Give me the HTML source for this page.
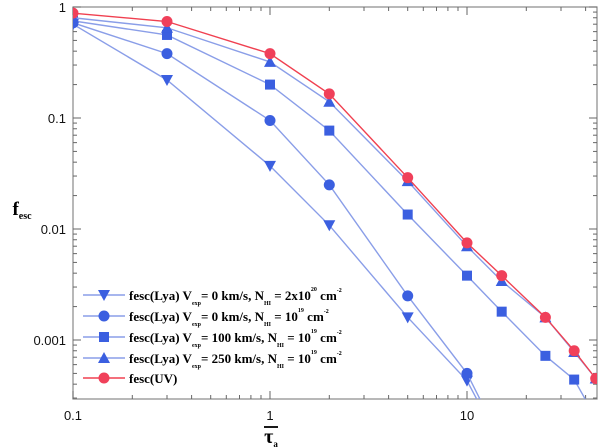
<!DOCTYPE html>
<html><head><meta charset="utf-8"><style>
html,body{margin:0;padding:0;background:#fff;}
svg{display:block;}
</style></head><body>
<svg id="chart" width="600" height="447" xmlns="http://www.w3.org/2000/svg">
<defs><clipPath id="clip"><rect x="73" y="7" width="524" height="392"/></clipPath></defs>
<g id="axes"></g>
<g id="series" clip-path="url(#clip)"></g>
<g id="legend"></g>
<text x="22" y="215" font-family="Liberation Serif, serif" font-weight="bold" font-size="19" text-anchor="middle">f<tspan font-size="10" dy="4">esc</tspan></text>
<g>
<line x1="264" y1="427" x2="278" y2="427" stroke="#000" stroke-width="1.8"/>
<text x="271" y="443" font-family="Liberation Serif, serif" font-weight="bold" font-size="20" text-anchor="middle">τ<tspan font-size="9" dy="4">a</tspan></text>
</g>
</svg>
<script>
const xCats=[0.1,0.3,1,2,5,10,15,25,35,45];
const uv=[0.88,0.74,0.38,0.165,0.029,0.0075,0.0038,0.0016,0.0008,0.00045];
const v250=[0.8,0.65,0.32,0.14,0.027,0.007,0.0034,0.0016,0.00078,0.00045];
const v100=[0.75,0.56,0.2,0.077,0.0135,0.0038,0.0018,0.00072,0.00044,0.0002];
const v0=[0.72,0.38,0.095,0.025,0.0025,0.0005,0.00012];
const v0big=[0.7,0.22,0.037,0.0108,0.0016,0.00043,0.00011];
const xTickLabels=['0.1','1','10'];
const yTickLabels=['1','0.1','0.01','0.001'];
const NS='http://www.w3.org/2000/svg';
const L=73,R=597,T=7,B=399,XD=197,YD=111;
function X(v){return L+(Math.log10(v)+1)*XD;}
function Y(v){return T-Math.log10(v)*YD;}
function mk(tag,attrs,parent){const e=document.createElementNS(NS,tag);for(const k in attrs)e.setAttribute(k,attrs[k]);parent.appendChild(e);return e;}
const axes=document.getElementById('axes');
const frame=mk('rect',{x:L,y:T,width:R-L,height:B-T,fill:'none',stroke:'#888','stroke-width':1.2},axes);


for(let d=-1;d<=1;d++){for(let m=1;m<=9;m++){const v=m*Math.pow(10,d);const x=X(v);if(x>R)continue;const len=m===1?8:4;
mk('line',{x1:x,y1:B,x2:x,y2:B-len,stroke:'#666'},axes);mk('line',{x1:x,y1:T,x2:x,y2:T+len,stroke:'#666'},axes);}}
xTickLabels.forEach(t=>{const e=mk('text',{x:X(parseFloat(t)),y:420,'font-family':'Liberation Sans, sans-serif','font-size':13,'text-anchor':'middle','fill':'#111'},axes);e.textContent=t;

});
for(let d=-4;d<=0;d++){for(let m=1;m<=9;m++){const v=m*Math.pow(10,d);const y=Y(v);if(y<T-0.5||y>B)continue;const len=m===1?8:4;
mk('line',{x1:L,y1:y,x2:L+len,y2:y,stroke:'#666'},axes);mk('line',{x1:R,y1:y,x2:R-len,y2:y,stroke:'#666'},axes);}}
yTickLabels.forEach(t=>{const e=mk('text',{x:66,y:Y(parseFloat(t))+5,'font-family':'Liberation Sans, sans-serif','font-size':13,'text-anchor':'end','fill':'#111'},axes);e.textContent=t;

});
function marker(g,type,x,y,col){
 if(type==='circle')mk('circle',{cx:x,cy:y,r:5.5,fill:col},g);
 else if(type==='square')mk('rect',{x:x-5,y:y-5,width:10,height:10,fill:col},g);
 else if(type==='up')mk('polygon',{points:`${x},${y-6} ${x+6},${y+5} ${x-6},${y+5}`,fill:col},g);
 else mk('polygon',{points:`${x},${y+6} ${x+6},${y-5} ${x-6},${y-5}`,fill:col},g);}
const BL='#3b5fe0',LL='#8a9ee8';
const series=[
 {name:'series-v0-n2e20',vals:v0big,m:'down',c:BL,lc:LL},
 {name:'series-v0-n1e19',vals:v0,m:'circle',c:BL,lc:LL},
 {name:'series-v100',vals:v100,m:'square',c:BL,lc:LL},
 {name:'series-v250',vals:v250,m:'up',c:BL,lc:LL},
 {name:'series-uv',vals:uv,m:'circle',c:'#f0405a',lc:'#f04050'}];
const sg=document.getElementById('series');
series.forEach(s=>{const g=mk('g',{},sg);
 
 
 const pts=s.vals.map((v,i)=>X(xCats[i])+','+Y(v)).join(' ');
 mk('polyline',{points:pts,fill:'none',stroke:s.lc,'stroke-width':1.4},g);
 s.vals.forEach((v,i)=>marker(g,s.m,X(xCats[i]),Y(v),s.c));});
const labels=[
 ['fesc(Lya) V','exp','= 0 km/s, N','HI',' = 2x10','20',' cm','-2'],
 ['fesc(Lya) V','exp','= 0 km/s, N','HI',' = 10','19',' cm','-2'],
 ['fesc(Lya) V','exp','= 100 km/s, N','HI',' = 10','19',' cm','-2'],
 ['fesc(Lya) V','exp','= 250 km/s, N','HI',' = 10','19',' cm','-2'],
 ['fesc(UV)']];
const lg=document.getElementById('legend');


const rowsY=[295,316,337,358,378];
series.forEach((s,i)=>{const g=mk('g',{},lg);
 
 
 const y=rowsY[i];
 mk('line',{x1:83,y1:y,x2:125,y2:y,stroke:s.lc,'stroke-width':1.4},g);
 marker(g,s.m,104,y,s.c);
 const t=mk('text',{x:129,y:y+5,'font-family':'Liberation Serif, serif','font-weight':'bold','font-size':13},g);
 const p=labels[i];
 if(p.length===1){t.textContent=p[0];return;}
 const parts=[[p[0],0,13],[p[1],5,6],[p[2],-5,13],[p[3],5,6],[p[4],-5,13],[p[5],-9,6],[p[6],9,13],[p[7],-8,6]];
 parts.forEach(q=>{const ts=mk('tspan',{dy:q[1],'font-size':q[2]},t);ts.textContent=q[0];});
});
</script>
</body></html>
